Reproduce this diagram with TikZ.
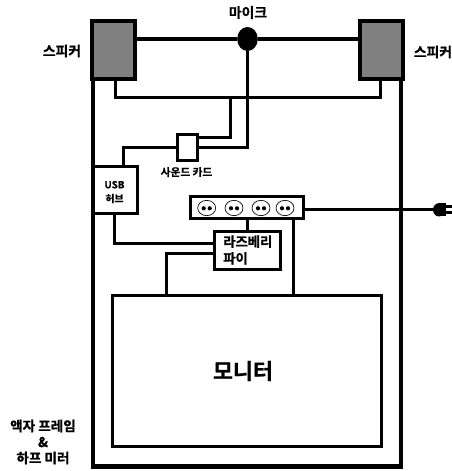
\documentclass[tikz,border=0pt]{standalone}
\usepackage{fontspec}
\setmainfont{Noto Sans CJK KR Bold}[FakeBold=0.8]
\usetikzlibrary{calc,shapes.geometric}
\tikzset{
  box/.style n args={2}{draw=black,fill=white,line width=2.25pt,inner sep=0pt,outer sep=0pt,minimum width=#1*0.75pt,minimum height=#2*0.75pt},
  spk/.style={box={43}{58},fill=black!50!white,line width=3pt},
  wire/.style={draw=black,line width=2.25pt,line join=miter},
  thick wire/.style={draw=black,line width=3pt},
  frame line/.style={draw=black,line width=3.4pt},
  lbl/.style={font=\fontsize{10.4pt}{12pt}\selectfont,align=center,inner sep=0pt,text=black},
  sock/.style={ellipse,draw=black,line width=0.5pt,fill=white,minimum width=13.5pt,minimum height=11.5pt,inner sep=0pt},
}
\begin{document}
\begin{tikzpicture}[x=0.75pt,y=-0.75pt]
\useasboundingbox (0,0) rectangle (452,471);
\draw[frame line] (93,79) -- (93,466.5) -- (401,466.5) -- (401,79);
\node[box={66}{38}] (rpi) at (247,250) {};
\node[box={269}{151}] (monitor) at (246.5,371) {};
\node[spk] (spkL) at (113.5,50) {};
\node[spk] (spkR) at (381,50) {};
\node[ellipse,fill=black,minimum width=15.5pt,minimum height=18pt,inner sep=0pt,outer sep=0pt] (mic) at (247.5,39) {};
\node[box={20}{26.5}] (card) at (187.7,147.3) {};
\node[box={44}{46.5}] (hub) at (115,190) {};
\node[box={113}{22.5}] (strip) at (247.3,207.5) {};
% wires
\draw[thick wire] (spkL.east |- mic) -- (mic) -- (spkR.west |- mic);
\draw[wire] (115,79) |- (380.7,97.5) -- (380.7,79);
\coordinate (busA) at (230.7,97.5);
\draw[wire] (busA) |- (card.east |- 0,137.2);
\draw[wire] (mic) |- (card.east |- 0,147);
\draw[wire] (card.west |- 0,147) -| (hub.north -| 123.3,0);
\draw[wire] (hub.south -| 114,0) |- (rpi.west |- 0,243);
\draw[wire] (rpi.west |- 0,253.7) -| (monitor.north -| 166.7,0);
\draw[wire] (strip.south -| 247,0) -- (rpi.north -| 247,0);
\draw[wire] (strip.south -| 293,0) -- (monitor.north -| 293,0);
\coordinate (plugend) at (436,209.3);
\draw[wire] (strip.east |- plugend) -- (plugend);
% plug
\node[ellipse,fill=black,minimum width=9pt,minimum height=10pt,inner sep=0pt,outer sep=0pt] (plug) at (439,209.8) {};
\fill[black] (439,203.2) rectangle (445.5,216.4);
\fill[black] (445,205.4) rectangle (452,208.2);
\fill[black] (445,211.2) rectangle (452,214);
% sockets
\foreach \n/\x in {a/206.7,b/234,c/261,d/285}{
  \node[sock] (s\n) at (\x,208) {};
  \fill[black] (\x-3,208.3) circle[radius=2.1];
  \fill[black] (\x+3,208.3) circle[radius=2.1];
}
% labels
\node[lbl] (tmic) at (248,12.5) {마이크};
\node[lbl] (tl) at (62,51) {스피커};
\node[lbl] (tr) at (433,52) {스피커};
\node[lbl,font=\fontsize{8pt}{9pt}\selectfont] (tcard) at (186.5,172) {사운드 카드};
\node[lbl,font=\fontsize{7.4pt}{10.4pt}\selectfont] (thub) at (114.5,192) {USB\\허브};
\node[lbl,font=\fontsize{10pt}{12.5pt}\selectfont,align=left,anchor=west] (trpi) at (223,250) {라즈베리\\파이};
\node[lbl,font=\fontsize{16.3pt}{18pt}\selectfont] (tmon) at (243,371) {모니터};
\node[lbl,font=\fontsize{10.2pt}{12pt}\selectfont] (tframe) at (43,442) {액자 프레임\\\&\\하프 미러};
\end{tikzpicture}
\end{document}
